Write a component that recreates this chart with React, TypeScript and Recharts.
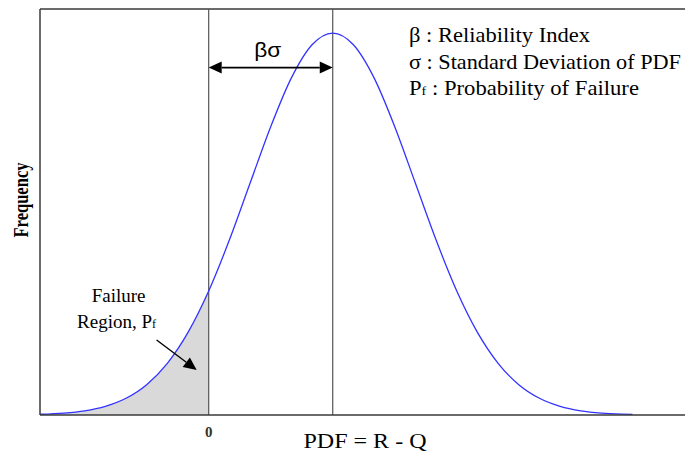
import React from "react";
import {
  ComposedChart,
  Line,
  Area,
  XAxis,
  YAxis,
  ReferenceLine,
} from "recharts";

// x positions (in units of sigma, 0 = limit state R - Q = 0)
const xValues = [
  -2.04, -1.75, -1.5, -1.25, -1.0, -0.75, -0.5, -0.25, 0, 0.25, 0.5, 0.75, 1.0,
  1.25, 1.5, 1.75, 2.0, 2.25, 2.5, 2.75, 3.0, 3.25, 3.5, 3.75, 4.0, 4.25, 4.5,
  4.75, 5.0, 5.125,
];
// frequency
const frequency = [
  0.0008, 0.0020, 0.0044, 0.0091, 0.0175, 0.0317, 0.0540, 0.0863, 0.1295,
  0.1827, 0.2420, 0.3011, 0.3521, 0.3867, 0.3989, 0.3867, 0.3521, 0.3011,
  0.2420, 0.1827, 0.1295, 0.0863, 0.0540, 0.0317, 0.0175, 0.0091, 0.0044,
  0.0020, 0.0009, 0.0006,
];
const xTicks = [0];
const limitX = 0;
const meanX = 1.5;
const xDomain = [-2.04, 5.76];
const yDomain = [0, 0.424];
const legendLines = ["β : Reliability Index", "σ : Standard Deviation of PDF"];
const legendLengths = [181, 272];

const data = xValues.map((x, i) => ({
  x,
  freq: frequency[i],
  fail: x <= limitX ? frequency[i] : null,
}));

const serif = "'Liberation Serif', 'Times New Roman', serif";
const sans = "'Liberation Sans', Arial, sans-serif";

const BetaSigmaArrow = (p: any) => {
  const { x1, y1, x2 } = p;
  const h = 13;
  const w = 6;
  return (
    <g>
      <line x1={x1 + h} y1={y1} x2={x2 - h} y2={y1} stroke="#000" strokeWidth={1.6} />
      <polygon points={`${x1},${y1} ${x1 + h},${y1 - w} ${x1 + h},${y1 + w}`} fill="#000" />
      <polygon points={`${x2},${y1} ${x2 - h},${y1 - w} ${x2 - h},${y1 + w}`} fill="#000" />
      <text
        x={(x1 + x2) / 2 - 3}
        y={y1 - 11}
        textAnchor="middle"
        fontFamily={sans}
        fontSize={21}
        textLength={27}
        lengthAdjust="spacingAndGlyphs"
        fill="#000"
      >
        βσ
      </text>
    </g>
  );
};

const FailureArrow = (p: any) => {
  const { x1, y1, x2, y2 } = p;
  const dx = x2 - x1;
  const dy = y2 - y1;
  const len = Math.sqrt(dx * dx + dy * dy);
  const ux = dx / len;
  const uy = dy / len;
  const hl = 13;
  const hw = 6;
  const bx = x2 - ux * hl;
  const by = y2 - uy * hl;
  return (
    <g>
      <line x1={x1} y1={y1} x2={bx} y2={by} stroke="#000" strokeWidth={1.4} />
      <polygon
        points={`${x2},${y2} ${bx - uy * hw},${by + ux * hw} ${bx + uy * hw},${by - ux * hw}`}
        fill="#000"
      />
      <text x={x1 - 38} y={y1 - 38} textAnchor="middle" fontFamily={serif} fontSize={19} fill="#000">
        Failure
      </text>
      <text x={x1 - 40} y={y1 - 12} textAnchor="middle" fontFamily={serif} fontSize={19} fill="#000">
        Region, P
        <tspan fontSize={12}>f</tspan>
      </text>
    </g>
  );
};

const ZeroTick = (p: any) => {
  const { x, y, payload } = p;
  return (
    <text
      x={x}
      y={y + 14}
      textAnchor="middle"
      fontFamily={serif}
      fontWeight="bold"
      fontSize={15}
      fill="#3a3320"
    >
      {payload.value}
    </text>
  );
};

export default function App() {
  return (
    <div style={{ position: "absolute", left: 0, top: 0, width: 685, height: 454, background: "#fff" }}>
      <ComposedChart
        width={685}
        height={454}
        data={data}
        margin={{ top: 9, right: 0, left: 0, bottom: 0 }}
      >
        <XAxis
          dataKey="x"
          type="number"
          domain={xDomain}
          ticks={xTicks}
          allowDataOverflow
          height={39}
          tickLine={false}
          axisLine={{ stroke: "#3a3a3a", strokeWidth: 1.5 }}
          tick={<ZeroTick />}
        />
        <YAxis
          type="number"
          domain={yDomain}
          allowDataOverflow
          width={40}
          tick={false}
          tickLine={false}
          axisLine={{ stroke: "#3a3a3a", strokeWidth: 1.5 }}
        />
        <Area
          dataKey="fail"
          type="monotone"
          stroke="none"
          fill="#d9d9d9"
          fillOpacity={1}
          isAnimationActive={false}
          connectNulls={false}
          activeDot={false}
        />
        <ReferenceLine y={yDomain[1]} stroke="#3a3a3a" strokeWidth={1.5} />
        <ReferenceLine x={limitX} stroke="#555" strokeWidth={1.2} />
        <ReferenceLine x={meanX} stroke="#555" strokeWidth={1.2} />
        <Line
          dataKey="freq"
          type="monotone"
          stroke="#3333ff"
          strokeWidth={1.3}
          dot={false}
          activeDot={false}
          isAnimationActive={false}
        />
        <ReferenceLine
          segment={[
            { x: limitX, y: 0.3628 },
            { x: meanX, y: 0.3628 },
          ]}
          shape={<BetaSigmaArrow />}
        />
        <ReferenceLine
          segment={[
            { x: -0.63, y: 0.0783 },
            { x: -0.145, y: 0.047 },
          ]}
          shape={<FailureArrow />}
        />
        <g>
          {legendLines.map((t, i) => (
            <text
              key={t}
              x={409}
              y={42 + i * 26.5}
              fontFamily={serif}
              fontSize={21}
              textLength={legendLengths[i]}
              lengthAdjust="spacingAndGlyphs"
              fill="#000"
            >
              {t}
            </text>
          ))}
          <text
            x={409}
            y={95}
            fontFamily={serif}
            fontSize={21}
            textLength={230}
            lengthAdjust="spacingAndGlyphs"
            fill="#000"
          >
            P<tspan fontSize={13}>f</tspan> : Probability of Failure
          </text>
          <text
            x={365}
            y={448}
            textAnchor="middle"
            fontFamily={serif}
            fontSize={22}
            textLength={123}
            lengthAdjust="spacingAndGlyphs"
            fill="#000"
          >
            PDF = R - Q
          </text>
          <text
            x={28}
            y={200}
            transform="rotate(-90 28 200)"
            textAnchor="middle"
            fontFamily={serif}
            fontWeight="bold"
            fontSize={21}
            textLength={75}
            lengthAdjust="spacingAndGlyphs"
            fill="#000"
          >
            Frequency
          </text>
        </g>
      </ComposedChart>
    </div>
  );
}
